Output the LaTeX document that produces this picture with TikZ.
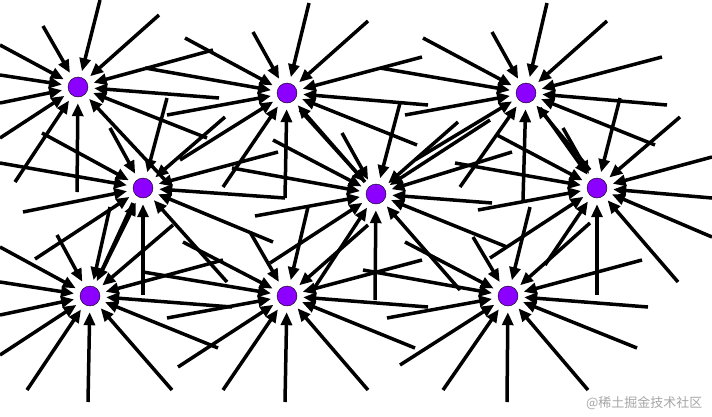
\documentclass[tikz,border=0pt]{standalone}
\usepackage{fontspec}
\newfontfamily\cjkfont{Noto Sans CJK SC}
\usetikzlibrary{arrows.meta}
\pgfdeclarelayer{background}
\pgfsetlayers{background,main}
\definecolor{unitviolet}{RGB}{140,0,255}
\tikzset{
    unit/.style={circle, fill=unitviolet, draw=black, line width=0.4pt,
        minimum size=20pt, inner sep=0pt},
    inarrow/.style={line width=3.5pt, shorten >=6pt,
        -{Triangle[length=13pt,width=11pt]}},
}
% all arrows from a list of tails into one unit
\newcommand\arrowsinto[2]{%
    \foreach \tx/\ty in {#2}{%
        \coordinate (tail) at (\tx,\ty);
        \draw[inarrow] (tail) -- (#1);
    }}
\begin{document}
\begin{tikzpicture}[x=1pt,y=-1pt]
        \useasboundingbox (0,0) rectangle (712,416);
        %% Units
        \node[unit] (n1) at (78,87)   {};
        \node[unit] (n2) at (287,93)  {};
        \node[unit] (n3) at (526,93)  {};
        \node[unit] (n4) at (143,188) {};
        \node[unit] (n5) at (376,194) {};
        \node[unit] (n6) at (597,188) {};
        \node[unit] (n7) at (90,296)  {};
        \node[unit] (n8) at (287,296) {};
        \node[unit] (n9) at (508,296) {};
        %% Incoming arrows
        \begin{pgfonlayer}{background}
        \arrowsinto{n1}{100/0,43/26,159/15,0/45,0/75,0/103,0/138,15/182,77/192,165/180,207/138,219/98,213/50}
        \arrowsinto{n2}{309/3,253/32,368/21,185/38,145/68,167/115,180/160,223/187,285/198,365/182,417/145,428/105,422/57}
        \arrowsinto{n3}{547/3,492/32,607/21,662/57,423/38,380/68,405/115,415/160,460/187,523/200,590/170,655/145,667/105}
        \arrowsinto{n4}{110/128,42/133,0/163,23/212,35/259,100/275,143/295,227/282,273/242,278/152,285/198,225/117,167/98}
        \arrowsinto{n5}{400/103,342/133,300/110,273/140,232/168,255/216,270/263,313/290,375/300,460/290,507/247,492/203,512/152,490/120,458/122}
        \arrowsinto{n6}{620/98,563/128,540/108,680/117,712/157,712/198,712/237,678/282,597/295,545/265,490/258,478/210,455/163,497/135}
        \arrowsinto{n7}{0/247,0/282,0/315,0/355,27/390,88/402,172/390,218/348,232/307,223/260,173/225,133/203,110/207,57/235}
        \arrowsinto{n8}{308/207,250/232,183/242,143/272,167/318,178/367,223/390,285/402,368/390,415/348,428/307,422/260,368/225}
        \arrowsinto{n9}{530/207,590/223,642/260,648/307,637/348,588/390,507/402,443/390,400/365,387/318,363/270,405/242,473/237}
        \end{pgfonlayer}
        %% Mark
        \node[anchor=east, text=black!35, font=\cjkfont\fontsize{13pt}{13pt}\selectfont] (mark) at (706,403) {@稀土掘金技术社区};
    \end{tikzpicture}
\end{document}
